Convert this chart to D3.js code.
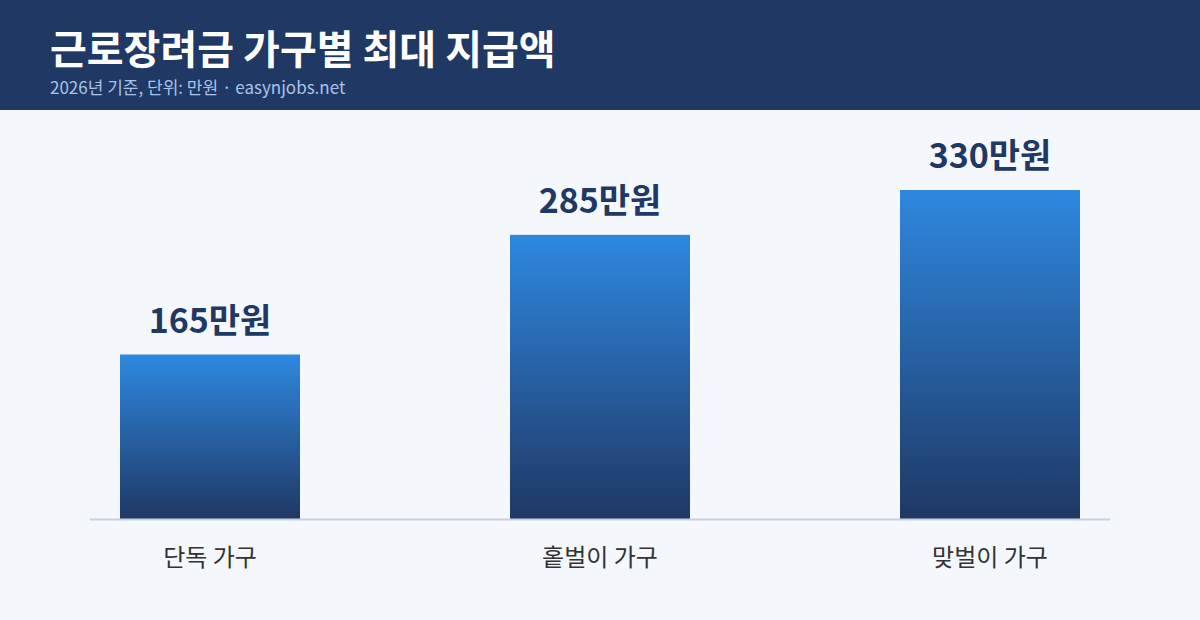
<!DOCTYPE html>
<html><head><meta charset="utf-8">
<script src="https://cdn.jsdelivr.net/npm/d3@7"></script>
<style>body{margin:0;background:#f4f7fc}svg{display:block}</style>
</head><body>
<svg id="c" width="1200" height="620"></svg>
<script>
const categories = ["단독 가구", "홑벌이 가구", "맞벌이 가구"];
const values = [165, 285, 330];
const unit = "만원";
const title = "근로장려금 가구별 최대 지급액";
const subtitle = "2026년 기준, 단위: 만원 · easynjobs.net";

const svg = d3.select("#c");
const font = "'Noto Sans CJK KR','Noto Sans',sans-serif";
svg.append("rect").attr("width",1200).attr("height",620).attr("fill","#f4f7fc");
svg.append("rect").attr("width",1200).attr("height",110).attr("fill","#1f3864");
svg.append("text").attr("x",50).attr("y",64).attr("fill","#fff").attr("font-family",font)
  .attr("font-weight",700).attr("font-size",40).text(title);
svg.append("text").attr("x",50).attr("y",94).attr("fill","#a9c4ea").attr("font-family",font)
  .attr("font-size",17).text(subtitle);

const defs = svg.append("defs");
const g = defs.append("linearGradient").attr("id","bg").attr("x1",0).attr("y1",0).attr("x2",0).attr("y2",1);
g.append("stop").attr("offset","0%").attr("stop-color","#2e88e0");
g.append("stop").attr("offset","100%").attr("stop-color","#1f3864");

const x = d3.scaleBand().domain(categories).range([15,1185]);
const y = d3.scaleLinear().domain([0,330]).range([519,190]);
const bw = 180;

svg.selectAll(".bar").data(values).join("rect")
  .attr("x",(d,i)=>x(categories[i])+x.bandwidth()/2-bw/2)
  .attr("y",d=>y(d)).attr("width",bw).attr("height",d=>y(0)-y(d))
  .attr("fill","url(#bg)");

svg.append("line").attr("x1",90).attr("x2",1110).attr("y1",y(0)+0.5).attr("y2",y(0)+0.5)
  .attr("stroke","#c8d0e0").attr("stroke-width",2);

svg.selectAll(".val").data(values).join("text")
  .attr("x",(d,i)=>x(categories[i])+x.bandwidth()/2).attr("y",d=>y(d)-22)
  .attr("text-anchor","middle").attr("fill","#1f3864").attr("font-family",font)
  .attr("font-weight",700).attr("font-size",34).text(d=>d+unit);

svg.selectAll(".cat").data(categories).join("text")
  .attr("x",d=>x(d)+x.bandwidth()/2).attr("y",566)
  .attr("text-anchor","middle").attr("fill","#333").attr("font-family",font)
  .attr("font-size",24).text(d=>d);
</script>
</body></html>
